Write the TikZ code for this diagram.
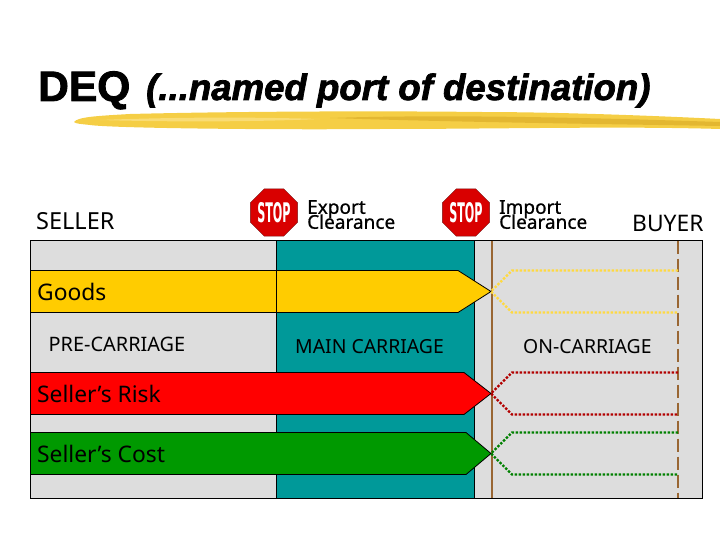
\documentclass[tikz,border=0pt]{standalone}
\usepackage{fontspec}
\setmainfont{Noto Sans}
\newfontfamily\titlefont[FakeBold=2]{Liberation Sans}
\newfontfamily\stopfont{DejaVu Sans}
\newfontfamily\clearfont[FakeBold=0.8]{Noto Sans}
\usetikzlibrary{positioning}
\usetikzlibrary{shapes.geometric}

\newcommand{\tightlines}{\lineskiplimit=-100pt\relax}

\definecolor{panelgrey}{HTML}{DDDDDD}
\definecolor{seateal}{HTML}{009999}
\definecolor{goodsyellow}{HTML}{FFCC00}
\definecolor{riskred}{HTML}{FF0000}
\definecolor{costgreen}{HTML}{009900}
\definecolor{linebrown}{HTML}{996633}
\definecolor{brushgold}{HTML}{F5CE45}
\definecolor{brushdark}{HTML}{D8A924}
\definecolor{brushpale}{HTML}{FBE38A}
\definecolor{stopdark}{HTML}{7A1616}

\tikzset{
    lbl/.style={inner sep=0pt, anchor=west, font=\fontsize{22.8}{23}\selectfont},
    carriage/.style={lbl, font=\fontsize{19.4}{20}\selectfont},
    clearance/.style={inner sep=0pt, anchor=north west, align=left, font=\clearfont\fontsize{19}{15}\selectfont\tightlines},
    band/.style={draw=black, line width=0.8pt},
    chevron/.style={line width=2.4pt, dash pattern=on 2.4pt off 1.6pt},
    octa/.style={regular polygon, regular polygon sides=8, inner sep=0pt}
}

\begin{document}
\begin{tikzpicture}[x=1pt,y=-1pt]
            \useasboundingbox (0,0) rectangle (720,540);

            % title
            \node(deq) [inner sep=0pt, anchor=base west, font=\titlefont\bfseries\fontsize{42.5}{43}\selectfont] at (38,101) {DEQ};
            \node(port) [inner sep=0pt, anchor=base west, font=\titlefont\bfseries\itshape\fontsize{36.6}{37}\selectfont] at (146,100) {(...named port of destination)};

            % brush stroke
            \fill[brushgold] (74,122) .. controls (78,117) and (95,116) .. (130,114) .. controls (250,111) and (400,111) .. (480,112) .. controls (560,112) and (660,116) .. (720,119) -- (720,129) .. controls (620,126) and (500,129) .. (380,129) .. controls (260,130) and (110,128) .. (90,125) .. controls (82,124) and (76,124) .. (74,122) -- cycle;
            \fill[brushdark, opacity=.6] (330,118) .. controls (450,114) and (600,118) .. (720,122) -- (720,126) .. controls (600,124) and (450,122) .. (330,118) -- cycle;
            \fill[brushpale, opacity=.7] (100,120) .. controls (180,117) and (250,117) .. (320,119) .. controls (250,122) and (170,122) .. (100,120) -- cycle;

            % panel
            \draw[band, fill=panelgrey] (30.5,240.5) rectangle (702,498);
            \draw[band, fill=seateal] (276.5,240.5) rectangle (474,498);

            % lines
            \coordinate (soltop) at (492,240.5);
            \coordinate (solbot) at (492,498);
            \coordinate (dashtop) at (678,240.5);
            \coordinate (dashbot) at (678,498);
            \draw[linebrown, line width=2pt] (soltop) -- (solbot);
            \draw[linebrown, line width=2pt, dash pattern=on 13pt off 5pt] (dashtop) -- (dashbot);

            % bands with their dotted other half
            \foreach \y/\h/\col/\dotcol in {270.5/458/goodsyellow/goodsyellow!75!white, 372.5/464/riskred/red!70!black, 432.5/466/costgreen/green!50!black} {
                \draw[band, fill=\col] (30.5,\y) -- (\h,\y) -- (491,\y+21) -- (\h,\y+42) -- (30.5,\y+42) -- cycle;
                \draw[chevron, color=\dotcol] (678,\y) -- (512,\y) -- (491,\y+21) -- (512,\y+42) -- (678,\y+42);
            }
            \draw[line width=.8pt] (276.5,270.5) -- (276.5,312.5);

            % stop signs
            \foreach \n/\x in {exp/274,imp/466} {
                \node(\n outer) [octa, fill=stopdark, minimum size=48pt] at (\x,212.5) {};
                \node(\n ring) [octa, fill=white, minimum size=44pt] at (\x,212.5) {};
                \node(\n stop) [octa, fill=red!85!black, draw=stopdark, minimum size=39pt, text=white, font=\stopfont\bfseries\fontsize{18}{18}\selectfont] at (\x,212.5) {\scalebox{.62}[1.5]{STOP}};
            }

            % labels
            \node(seller) [lbl, font=\fontsize{23.5}{24}\selectfont] at (36,221) {SELLER};
            \node(buyer) [lbl] at (632,223) {BUYER};
            \node(export) [clearance] at (307,200) {Export\\Clearance};
            \node(import) [clearance] at (499,200) {Import\\Clearance};
            \node(goods) [lbl] at (37,292) {Goods};
            \node(pre) [carriage, font=\fontsize{19.9}{20}\selectfont] at (48.5,344) {PRE-CARRIAGE};
            \node(main) [carriage] at (295,347) {MAIN CARRIAGE};
            \node(on) [carriage] at (523,347) {ON-CARRIAGE};
            \node(risk) [lbl] at (37,394) {Seller's Risk};
            \node(cost) [lbl] at (37,454) {Seller's Cost};
        \end{tikzpicture}
\end{document}
